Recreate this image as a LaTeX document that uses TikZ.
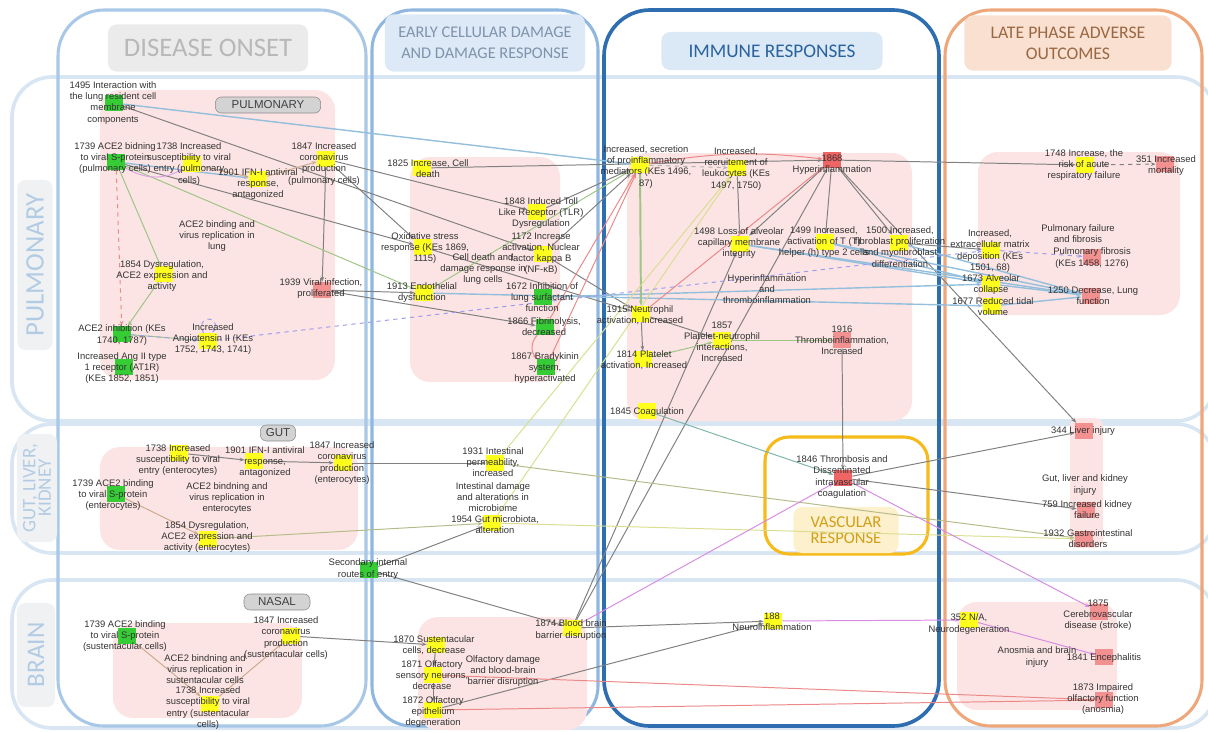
\documentclass[tikz,border=0pt]{standalone}
\usepackage{fontspec}
\setmainfont{Liberation Sans}
\newfontfamily\calibfont{Carlito}
\usetikzlibrary{arrows.meta}
\definecolor{rowblue}{HTML}{D8E6F3}
\definecolor{onsetblue}{HTML}{A9C8E7}
\definecolor{earlyblue}{HTML}{8FB7E0}
\definecolor{earlytext}{HTML}{7F93AD}
\definecolor{immblue}{HTML}{2E6EB0}
\definecolor{lateorange}{HTML}{EDA77A}
\definecolor{vascgold}{HTML}{F6BA1A}
\definecolor{regpink}{HTML}{FCE4E4}
\definecolor{kegreen}{HTML}{35CC35}
\definecolor{keyellow}{HTML}{FFFF1E}
\definecolor{kered}{HTML}{F39191}
\definecolor{kehub}{HTML}{EF6464}
\definecolor{egrey}{HTML}{808080}
\definecolor{eblue}{HTML}{93BFDC}
\definecolor{egreen}{HTML}{9DC585}
\definecolor{epink}{HTML}{EC8888}
\definecolor{eyellow}{HTML}{D9DE90}
\definecolor{eolive}{HTML}{B5BC8A}
\definecolor{epurple}{HTML}{D78CE2}
\definecolor{elav}{HTML}{9D9DEF}
\definecolor{etan}{HTML}{CBAA8C}
\definecolor{eteal}{HTML}{7FB5AA}
\definecolor{lbltext}{HTML}{333333}
\definecolor{tagfill}{HTML}{EFF1F3}
\definecolor{tagtext}{HTML}{B2CBE4}
\definecolor{subfill}{HTML}{D3D3D3}
\definecolor{subdraw}{HTML}{8C8C8C}
\pgfdeclarelayer{boxes}
\pgfdeclarelayer{edges}
\pgfsetlayers{boxes,edges,main}
\begin{document}
\begin{tikzpicture}[x=0.025cm,y=-0.025cm,
  mk/.style={rectangle,minimum width=0.45cm,minimum height=0.4cm,inner sep=0pt},
  lbl/.style={align=center,inner sep=0pt,text=lbltext,font=\fontsize{6.7}{7.9}\selectfont},
  lk/.style={line width=0.7pt,-{Stealth[length=3.6pt,width=2.6pt]}},
  colbox/.style={line width=2.2pt,rounded corners=1.15cm},
  rowband/.style={draw=rowblue,line width=2.6pt,rounded corners=1cm},
  pinkreg/.style={fill=regpink,rounded corners=0.5cm},
  head/.style={rounded corners=0.22cm,align=center,inner sep=0pt},
  rowtag/.style={fill=tagfill,text=tagtext,rounded corners=0.2cm,rotate=90,align=center,inner sep=0pt},
  subtag/.style={fill=subfill,draw=subdraw,rounded corners=0.15cm,minimum height=0.4cm,inner sep=0pt,text=black!75,font=\fontsize{8.2}{9}\selectfont}]
  \useasboundingbox (0,0) rectangle (1208,731);

  \begin{pgfonlayer}{boxes}
    % organ rows
    \begin{scope}
      \clip (0,0) rectangle (1208,731);
      \draw[rowband] (12,77) rectangle (1216,421);
      \draw[rowband] (12,424) rectangle (1216,553);
      \draw[rowband] (12,580) rectangle (1216,728);
    \end{scope}
    % phase columns
    \draw[colbox,onsetblue] (58,10) rectangle (366,726);
    \draw[colbox,earlyblue,rounded corners=1cm] (372,10) rectangle (598,726);
    \draw[colbox,immblue,line width=2.6pt] (604,10) rectangle (939,726);
    \draw[colbox,lateorange] (945,10) rectangle (1202,726);
    % pink areas
    \fill[pinkreg] (100,90) rectangle (335,380);
    \fill[pinkreg] (410,157) rectangle (560,382);
    \fill[pinkreg] (627,153) rectangle (912,421);
    \fill[pinkreg] (978,152) rectangle (1180,315);
    \fill[pinkreg] (100,447) rectangle (358,550);
    \fill[pinkreg,rounded corners=0.2cm] (1070,418) rectangle (1103,548);
    \fill[pinkreg] (113,623) rectangle (302,718);
    \fill[pinkreg] (418,617) rectangle (587,730);
    \fill[pinkreg] (957,602) rectangle (1117,710);
    % vascular frame
    \draw[vascgold,line width=2.2pt,rounded corners=0.6cm] (765,437) rectangle (928,554);
    % headers
    \node[head,fill=black!8,text=black!28,minimum width=5cm,minimum height=1.18cm,font=\calibfont\fontsize{19}{22}\selectfont] (honset) at (208,48) {DISEASE ONSET};
    \node[head,fill=earlyblue!30,text=earlytext,minimum width=5cm,minimum height=1.43cm,font=\calibfont\fontsize{11.6}{15}\selectfont] (hearly) at (485,43) {EARLY CELLULAR DAMAGE\\AND DAMAGE RESPONSE};
    \node[head,fill=earlyblue!32,text=immblue!90!black,minimum width=5.53cm,minimum height=0.95cm,font=\calibfont\fontsize{13.7}{16}\selectfont] (himmune) at (772,51) {IMMUNE RESPONSES};
    \node[head,fill=lateorange!35,text=lateorange!60!black!90!orange,minimum width=5.18cm,minimum height=1.38cm,font=\calibfont\fontsize{12.6}{15}\selectfont] (hlate) at (1068,43) {LATE PHASE ADVERSE\\OUTCOMES};
    \node[head,fill=vascgold!22,text=vascgold!85!black,minimum width=2.63cm,minimum height=1.15cm,font=\calibfont\fontsize{11.8}{11.2}\selectfont] (hvasc) at (846,530) {VASCULAR\\RESPONSE};
    % row tags
    \node[rowtag,minimum width=4.25cm,minimum height=0.88cm,font=\calibfont\fontsize{19}{22}\selectfont] (rpulm) at (35,265) {PULMONARY};
    \node[rowtag,minimum width=2.7cm,minimum height=1cm,font=\calibfont\fontsize{13.5}{11}\selectfont] (rgut) at (37,488) {GUT, LIVER,\\KIDNEY};
    \node[rowtag,minimum width=2.6cm,minimum height=0.95cm,font=\calibfont\fontsize{18}{20}\selectfont] (rbrain) at (36,655) {BRAIN};
    \node[subtag,minimum width=2.63cm] (spulm) at (268,105) {PULMONARY};
    \node[subtag,minimum width=0.88cm] (sgut) at (278,433) {GUT};
    \node[subtag,minimum width=1.65cm] (snasal) at (277,602) {NASAL};
  \end{pgfonlayer}

  % key event markers
  \foreach \n/\x/\y in {1495/114/103,1739p/116/162,ace2inh/122/334,at1r/124/367,1672/543/297,1866/545/327,
    1867/546/367,1739g/116/494,route/369/570,1739b/127/636}
    \node[mk,fill=kegreen] (n\n) at (\x,\y) {};
  \foreach \n/\x/\y in {1738p/192/164,1901p/258/179,1847p/326/159,1854p/164/274,angii/208/341,1825/422/168,
    1848/537/212,oxid/423/247,1172/543/254,1913/424/293,secr/640/165,leuk/737/168,1498/740/244,1499/825/242,
    1500/899/243,1915/641/314,1857/722/340,1814/643/359,1845/647/411,1748/1085/165,ecm/991/250,1673/991/284,
    1677/992/306,1738g/179/453,1901g/254/461,1847g/343/463,1854g/208/539,1931/495/463,1954/492/523,
    1847b/291/636,1738b/210/704,1870/436/645,1871/433/675,1872/433/710,1874/572/628,188/773/621,352/969/620}
    \node[mk,fill=keyellow] (n\n) at (\x,\y) {};
  \foreach \n/\x/\y in {1939/322/290,351/1165/164,pf/1092/257,1250/1091/296,1916/842/340,344/1084/431,
    759/1086/510,1932/1084/539,1875/1099/612,1841/1104/657,1873/1104/700}
    \node[mk,fill=kered] (n\n) at (\x,\y) {};
  \node[mk,fill=kehub] (n1868) at (832,160) {};
  \node[mk,fill=kehub] (n1846) at (843,478) {};

  % labels, pulmonary
  \node[lbl] (t1495) at (113,103) {1495 Interaction with\\the lung resident cell\\membrane\\components};
  \node[lbl] (t1739p) at (115,158) {1739 ACE2 bidning\\to viral S-protein\\(pulmonary cells)};
  \node[lbl] (t1738p) at (189,164) {1738 Increased\\susceptibility to viral\\entry (pulmonary\\cells)};
  \node[lbl] (t1901p) at (258,184) {1901 IFN-I antiviral\\response,\\antagonized};
  \node[lbl] (t1847p) at (324,164) {1847 Increased\\coronavirus\\production\\(pulmonary cells)};
  \node[lbl] (tlung) at (217,236) {ACE2 binding and\\virus replication in\\lung};
  \node[lbl] (t1854p) at (162,276) {1854 Dysregulation,\\ACE2 expression and\\activity};
  \node[lbl] (t1939) at (321,289) {1939 Viral infection,\\proliferated};
  \node[lbl] (tace2inh) at (122,335) {ACE2 inhibition (KEs\\1740, 1787)};
  \node[lbl] (tangii) at (213,339) {Increased\\Angiotensin II (KEs\\1752, 1743, 1741)};
  \node[lbl] (tat1r) at (122,368) {Increased Ang II type\\1 receptor (AT1R)\\(KEs 1852, 1851)};
  \node[lbl] (t1825) at (428,169) {1825 Increase, Cell\\death};
  \node[lbl] (t1848) at (541,213) {1848 Induced Toll\\Like Receptor (TLR)\\Dysregulation};
  \node[lbl] (toxid) at (425,248) {Oxidative stress\\response (KEs 1869,\\1115)};
  \node[lbl] (t1172) at (541,254) {1172 Increase\\activation, Nuclear\\factor kappa B\\(NF-κB)};
  \node[lbl] (tlungcell) at (483,269) {Cell death and\\damage response in\\lung cells};
  \node[lbl] (t1913) at (422,293) {1913 Endothelial\\dysfunction};
  \node[lbl] (t1672) at (542,297) {1672 Inhibition of\\lung surfactant\\function};
  \node[lbl] (t1866) at (544,327) {1866 Fibrinolysis,\\decreased};
  \node[lbl] (t1867) at (545,368) {1867 Bradykinin\\system,\\hyperactivated};
  \node[lbl] (tsecr) at (646,167) {Increased, secretion\\of proinflammatory\\mediators (KEs 1496,\\87)};
  \node[lbl] (tleuk) at (736,169) {Increased,\\recruitement of\\leukocytes (KEs\\1497, 1750)};
  \node[lbl] (t1868) at (832,165) {1868\\Hyperinflammation};
  \node[lbl] (t1498) at (739,243) {1498 Loss of alveolar\\capillary membrane\\integrity};
  \node[lbl] (t1499) at (824,242) {1499 Increased,\\activation of T (T)\\helper (h) type 2 cells};
  \node[lbl] (t1500) at (900,247) {1500 Increased,\\fibroblast proliferation\\and myofibroblast\\differentiation};
  \node[lbl] (thyper) at (767,289) {Hyperinflammation\\and\\thromboinflammation};
  \node[lbl] (t1915) at (640,315) {1915 Neutrophil\\activation, Increased};
  \node[lbl] (t1857) at (722,342) {1857\\Platelet-neutrophil\\interactions,\\Increased};
  \node[lbl] (t1916) at (842,340) {1916\\Thromboinflammation,\\Increased};
  \node[lbl] (t1814) at (644,360) {1814 Platelet\\activation, Increased};
  \node[lbl] (t1845) at (647,412) {1845 Coagulation};
  \node[lbl] (t1748) at (1084,165) {1748 Increase, the\\risk of acute\\respiratory failure};
  \node[lbl] (t351) at (1166,166) {351 Increased\\mortality};
  \node[lbl] (tpulmfail) at (1078,234) {Pulmonary failure\\and fibrosis};
  \node[lbl] (tecm) at (990,251) {Increased,\\extracellular matrix\\deposition (KEs\\1501, 68)};
  \node[lbl] (tpf) at (1092,258) {Pulmonary fibrosis\\(KEs 1458, 1276)};
  \node[lbl] (t1673) at (991,285) {1673 Alveolar\\collapse};
  \node[lbl] (t1677) at (993,307) {1677 Reduced tidal\\volume};
  \node[lbl] (t1250) at (1093,296) {1250 Decrease, Lung\\function};
  % labels, gut
  \node[lbl] (t1738g) at (178,460) {1738 Increased\\susceptibility to viral\\entry (enterocytes)};
  \node[lbl] (t1901g) at (265,462) {1901 IFN-I antiviral\\response,\\antagonized};
  \node[lbl] (t1847g) at (342,463) {1847 Increased\\coronavirus\\production\\(enterocytes)};
  \node[lbl] (t1739g) at (113,495) {1739 ACE2 binding\\to viral S-protein\\(enterocytes)};
  \node[lbl] (tentero) at (227,498) {ACE2 bindning and\\virus replication in\\enterocytes};
  \node[lbl] (t1854g) at (207,537) {1854 Dysregulation,\\ACE2 expression and\\activity (enterocytes)};
  \node[lbl] (t1931) at (493,462) {1931 Intestinal\\permeability,\\increased};
  \node[lbl] (tmicro) at (493,497) {Intestinal damage\\and alterations in\\microbiome};
  \node[lbl] (t1954) at (495,525) {1954 Gut microbiota,\\alteration};
  \node[lbl] (troute) at (368,569) {Secondary internal\\routes of entry};
  \node[lbl] (t1846) at (842,477) {1846 Thrombosis and\\Disseminated\\intravascular\\coagulation};
  \node[lbl] (t344) at (1083,431) {344 Liver injury};
  \node[lbl] (tgutinj) at (1085,485) {Gut, liver and kidney\\injury};
  \node[lbl] (t759) at (1087,510) {759 Increased kidney\\failure};
  \node[lbl] (t1932) at (1088,539) {1932 Gastrointestinal\\disorders};
  % labels, brain
  \node[lbl] (t1739b) at (125,636) {1739 ACE2 binding\\to viral S-protein\\(sustentacular cells)};
  \node[lbl] (t1847b) at (286,638) {1847 Increased\\coronavirus\\production\\(sustentacular cells)};
  \node[lbl] (tsust) at (205,669) {ACE2 bindning and\\virus replication in\\sustentacular cells};
  \node[lbl] (t1738b) at (208,708) {1738 Increased\\susceptibility to viral\\entry (sustentacular\\cells)};
  \node[lbl] (t1870) at (434,645) {1870 Sustentacular\\cells, decrease};
  \node[lbl] (t1871) at (432,675) {1871 Olfactory\\sensory neurons,\\decrease};
  \node[lbl] (tolf) at (503,671) {Olfactory damage\\and blood-brain\\barrier disruption};
  \node[lbl] (t1872) at (433,712) {1872 Olfactory\\epithelium\\degeneration};
  \node[lbl] (t1874) at (571,630) {1874 Blood brain\\barrier disruption};
  \node[lbl] (t188) at (772,622) {188\\Neuroinflammation};
  \node[lbl] (t352) at (969,624) {352 N/A,\\Neurodegeneration};
  \node[lbl] (t1875) at (1098,615) {1875\\Cerebrovascular\\disease (stroke)};
  \node[lbl] (tanosmia) at (1037,657) {Anosmia and brain\\injury};
  \node[lbl] (t1841) at (1104,658) {1841 Encephalitis};
  \node[lbl] (t1873) at (1103,699) {1873 Impaired\\olfactory function\\(anosmia)};

  \begin{pgfonlayer}{edges}
    % grey links
    \foreach \a/\b in {1495/1172,1739p/oxid,1847p/1848,1847p/1939,1847p/oxid,1825/1868,1939/1913,1939/1866,
      1848/secr,1172/secr,oxid/1915,1172/1915,leuk/1498,1868/1498,1868/1499,1868/1500,1868/1748,1868/344,
      1500/ecm,1915/1814,1915/1857,1916/1846,1846/344,1846/759,route/1954,route/1874,1874/188,1872/188,
      1874/1868,1874/1498,1847g/1931,1738g/1901g,1901g/1847g,1847b/1870,1870/1871,1871/1872}
      \draw[lk,egrey] (n\a) -- (n\b);
    \draw[lk,egrey,dashed] (n1748) -- (n351);
    \draw[lk,egrey!60,dashed] (nsecr) -- (nleuk);
    % blue links
    \foreach \a/\b in {1495/secr,1739p/1901p,1672/1673,1913/1677,1498/1673,1498/1250,1499/1250,1500/1250,
      1499/1673,1673/1250,1677/1250}
      \draw[lk,eblue,line width=1pt] (n\a) -- (n\b);
    \draw[lk,eteal] (n1845) -- (n1846);
    % green links
    \foreach \a/\b in {1739p/1854p,1739p/1913,1854p/ace2inh,ace2inh/angii,1814/1857,1857/1916,1913/secr}
      \draw[lk,egreen] (n\a) -- (n\b);
    \draw[lk,egreen,line width=1.4pt] (nsecr) -- (n1915);
    % pink links
    \foreach \a/\b in {1867/secr,1866/secr,1915/1868,1871/1873,1872/1873}
      \draw[lk,epink] (n\a) -- (n\b);
    \draw[lk,epink] (nsecr) to[bend left=8] (n1868);
    \draw[lk,epurple!80] (n1739p) to[bend right=30] (n1738p);
    \draw[lk,epink] (n1866) to[bend right=45] (n1867);
    \draw[lk,epink,dashed] (n1739p) -- (nace2inh);
    % yellow and olive links
    \foreach \a/\b in {1931/leuk,1954/leuk,1954/1932}
      \draw[lk,eyellow] (n\a) -- (n\b);
    \foreach \a/\b in {1931/1932,1854g/1954}
      \draw[lk,eolive] (n\a) -- (n\b);
    % purple links
    \foreach \a/\b in {1874/1846,1846/1875,188/352,352/1841}
      \draw[lk,epurple] (n\a) -- (n\b);
    % dashed lavender links
    \foreach \a/\b in {ace2inh/angii,angii/ecm,ecm/pf}
      \draw[lk,elav,dashed] (n\a) -- (n\b);
    \draw[lk,elav,dashed] (nangii) .. controls +(-14,-26) and +(14,-26) .. (nangii);
    % tan links
    \foreach \a/\b in {1738p/1901p,1901p/1847p,1739g/1854g,1739b/1738b,1738b/1847b}
      \draw[lk,etan] (n\a) -- (n\b);
  \end{pgfonlayer}
\end{tikzpicture}
\end{document}
